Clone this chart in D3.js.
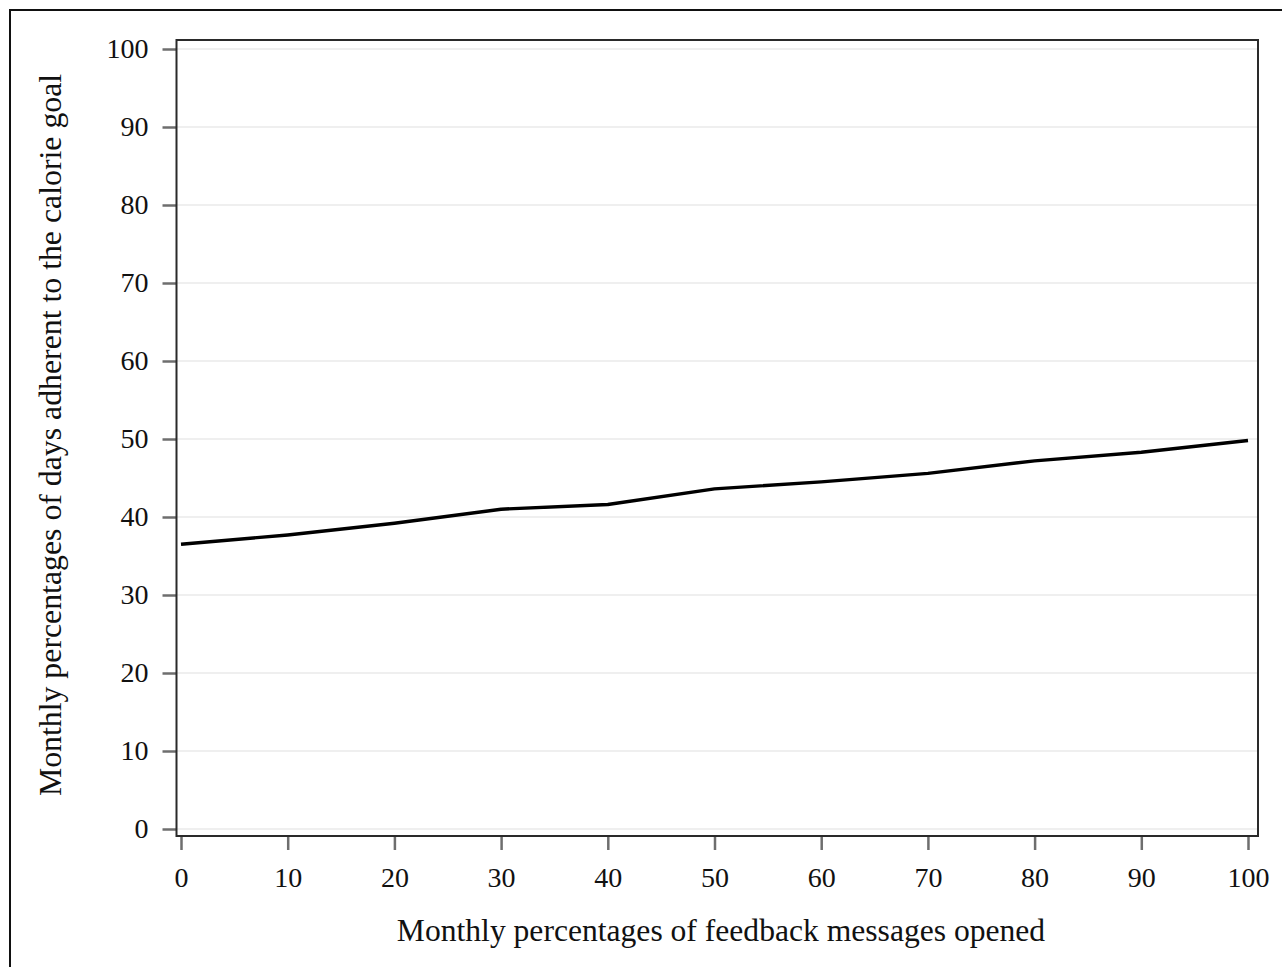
<!DOCTYPE html>
<html>
<head>
<meta charset="utf-8">
<script src="https://cdn.jsdelivr.net/npm/d3@7"></script>
<style>
  body { margin: 0; background: #fff; }
  svg { display: block; font-family: "Liberation Serif", "Times New Roman", serif; }
</style>
</head>
<body>
<div class="chart"></div>
<script>
// values
const xValues = [0, 10, 20, 30, 40, 50, 60, 70, 80, 90, 100];
const yValues = [36.5, 37.7, 39.2, 41.0, 41.6, 43.6, 44.5, 45.6, 47.2, 48.3, 49.8];
const xTicks = [0, 10, 20, 30, 40, 50, 60, 70, 80, 90, 100];
const yTicks = [0, 10, 20, 30, 40, 50, 60, 70, 80, 90, 100];
const xTitle = "Monthly percentages of feedback messages opened";
const yTitle = "Monthly percentages of days adherent to the calorie goal";

const W = 1282, H = 967;
const frame = { left: 176.5, top: 40, right: 1258, bottom: 836 };

const svg = d3.select(".chart")
  .append("svg")
  .attr("width", W)
  .attr("height", H);

// outer border of the figure (cut off at right / bottom)
svg.append("path")
  .attr("d", `M10,${H} L10,10 L${W},10`)
  .attr("fill", "none")
  .attr("stroke", "#111")
  .attr("stroke-width", 2);

const xScale = d3.scaleLinear().domain([0, 100]).range([181, 1248]);
const yScale = d3.scaleLinear().domain([0, 100]).range([829, 49]);

// grid lines
svg.append("g")
  .selectAll("line")
  .data(yTicks)
  .join("line")
  .attr("x1", frame.left)
  .attr("x2", frame.right)
  .attr("y1", d => yScale(d))
  .attr("y2", d => yScale(d))
  .attr("stroke", "#efefef")
  .attr("stroke-width", 2);

const yAxis = d3.axisLeft(yScale)
  .tickValues(yTicks)
  .tickSize(14)
  .tickSizeOuter(0)
  .tickPadding(14);

svg.append("g")
  .attr("class", "axis y-axis")
  .attr("transform", `translate(${frame.left},0)`)
  .call(yAxis);

const xAxis = d3.axisBottom(xScale)
  .tickValues(xTicks)
  .tickSize(14)
  .tickSizeOuter(0)
  .tickPadding(17);

svg.append("g")
  .attr("class", "axis x-axis")
  .attr("transform", `translate(0,${frame.bottom})`)
  .call(xAxis);

svg.selectAll(".axis .domain").remove();
svg.selectAll(".axis .tick line")
  .attr("stroke", "#6e6e6e")
  .attr("stroke-width", 2.5);
svg.selectAll(".axis .tick text")
  .attr("fill", "#111")
  .attr("font-size", "28px")
  .attr("font-family", "Liberation Serif, Times New Roman, serif");

// plot frame
svg.append("rect")
  .attr("x", frame.left)
  .attr("y", frame.top)
  .attr("width", frame.right - frame.left)
  .attr("height", frame.bottom - frame.top)
  .attr("fill", "none")
  .attr("stroke", "#2a2a2a")
  .attr("stroke-width", 2);

const line = d3.line()
  .x((d, i) => xScale(xValues[i]))
  .y(d => yScale(d));

svg.append("path")
  .datum(yValues)
  .attr("d", line)
  .attr("fill", "none")
  .attr("stroke", "#000")
  .attr("stroke-width", 3.4)
  .attr("stroke-linejoin", "round");

svg.append("text")
  .attr("class", "x-axis-title")
  .attr("text-anchor", "middle")
  .attr("x", 721)
  .attr("y", 941)
  .attr("font-size", "31.6px")
  .attr("fill", "#111")
  .text(xTitle);

svg.append("text")
  .attr("class", "y-axis-title")
  .attr("text-anchor", "middle")
  .attr("transform", "translate(61,435) rotate(-90)")
  .attr("font-size", "31.8px")
  .attr("fill", "#111")
  .text(yTitle);
</script>
</body>
</html>
